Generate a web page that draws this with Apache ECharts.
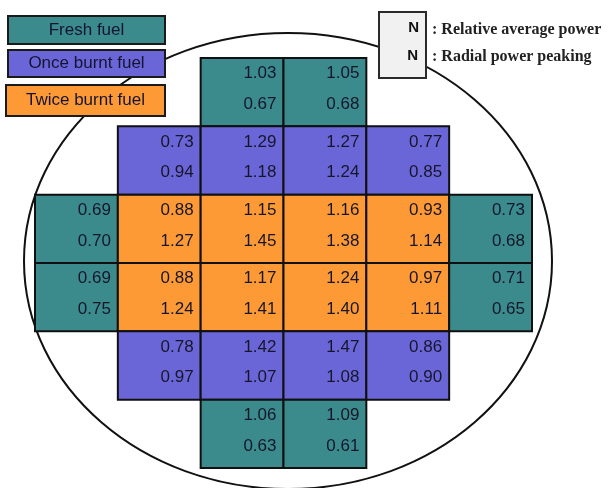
<!DOCTYPE html>
<html>
<head>
<meta charset="utf-8">
<script src="https://cdn.jsdelivr.net/npm/echarts@6/dist/echarts.min.js"></script>
<style>html,body{margin:0;padding:0;background:#fff;}#c{width:611px;height:488px;}</style>
</head>
<body>
<div id="c"></div>
<script>
// Core map data (rows top->bottom, columns left->right)
const colCategories = ['0', '1', '2', '3', '4', '5'];
const rowCategories = ['0', '1', '2', '3', '4', '5'];
const cellRow = [0, 0, 1, 1, 1, 1, 2, 2, 2, 2, 2, 2, 3, 3, 3, 3, 3, 3, 4, 4, 4, 4, 5, 5];
const cellCol = [2, 3, 1, 2, 3, 4, 0, 1, 2, 3, 4, 5, 0, 1, 2, 3, 4, 5, 1, 2, 3, 4, 2, 3];
const cellType = ['F','F','O','O','O','O','F','T','T','T','T','F','F','T','T','T','T','F','O','O','O','O','F','F'];
const relativePower = [1.03, 1.05, 0.73, 1.29, 1.27, 0.77, 0.69, 0.88, 1.15, 1.16, 0.93, 0.73, 0.69, 0.88, 1.17, 1.24, 0.97, 0.71, 0.78, 1.42, 1.47, 0.86, 1.06, 1.09];
const radialPeaking = [0.67, 0.68, 0.94, 1.18, 1.24, 0.85, 0.70, 1.27, 1.45, 1.38, 1.14, 0.68, 0.75, 1.24, 1.41, 1.40, 1.11, 0.65, 0.97, 1.07, 1.08, 0.90, 0.63, 0.61];
const fuelNames = { F: 'Fresh fuel', O: 'Once burnt fuel', T: 'Twice burnt fuel' };
const legendLabels = ['N', 'N'];
const legendTexts = [': Relative average power', ': Radial power peaking'];

const fuelColors = { F: '#3B8B8C', O: '#6B66D8', T: '#FE9A36' };
const cellData = cellRow.map((r, i) => [cellCol[i], r, cellType[i], relativePower[i], radialPeaking[i]]);

const chart = echarts.init(document.getElementById('c'), null, { renderer: 'canvas' });

function legendBox(y, h, type, left) {
  return {
    type: 'group', z: 20,
    children: [
      { type: 'rect', z: 20, shape: { x: left, y: y, width: 165 - left, height: h },
        style: { fill: fuelColors[type], stroke: '#1a1a1a', lineWidth: 2 } },
      { type: 'text', z: 21, style: { text: fuelNames[type], x: (left + 165) / 2, y: y + h / 2,
        textAlign: 'center', textVerticalAlign: 'middle', font: '17px "Liberation Sans", Arial, sans-serif', fill: '#141430' } }
    ]
  };
}

chart.setOption({
  animation: false,
  grid: { left: 35, top: 58, width: 497, height: 410 },
  xAxis: { type: 'category', data: colCategories, show: false, boundaryGap: true },
  yAxis: { type: 'category', data: rowCategories, inverse: true, show: false, boundaryGap: true },
  graphic: [
    { type: 'ellipse', z: 0, shape: { cx: 288, cy: 261, rx: 264, ry: 228 },
      style: { fill: 'none', stroke: '#111', lineWidth: 2 } },
    legendBox(16, 28, 'F', 8),
    legendBox(50, 27, 'O', 8),
    legendBox(85, 31, 'T', 6),
    { type: 'rect', z: 20, shape: { x: 379, y: 12, width: 47, height: 66 },
      style: { fill: '#f1f1f1', stroke: '#2a2a2a', lineWidth: 2 } },
    { type: 'text', z: 21, style: { text: legendLabels[0], x: 419, y: 28, textAlign: 'right', textVerticalAlign: 'middle',
      font: 'bold 15px "Liberation Sans", Arial, sans-serif', fill: '#111' } },
    { type: 'text', z: 21, style: { text: legendLabels[1], x: 418, y: 56, textAlign: 'right', textVerticalAlign: 'middle',
      font: 'bold 15px "Liberation Sans", Arial, sans-serif', fill: '#111' } },
    { type: 'text', z: 21, style: { text: legendTexts[0], x: 432, y: 30, textAlign: 'left', textVerticalAlign: 'middle',
      font: 'bold 16px "Liberation Serif", "Times New Roman", serif', fill: '#222' } },
    { type: 'text', z: 21, style: { text: legendTexts[1], x: 432, y: 57, textAlign: 'left', textVerticalAlign: 'middle',
      font: 'bold 16px "Liberation Serif", "Times New Roman", serif', fill: '#222' } }
  ],
  series: [{
    type: 'custom',
    z: 5,
    data: cellData,
    renderItem: function (params, api) {
      const c = api.coord([api.value(0), api.value(1)]);
      const s = api.size([1, 1]);
      const x0 = c[0] - s[0] / 2, y0 = c[1] - s[1] / 2;
      const type = cellData[params.dataIndex][2];
      const font = '17px "Liberation Sans", Arial, sans-serif';
      return {
        type: 'group',
        children: [
          { type: 'rect', shape: { x: x0, y: y0, width: s[0], height: s[1] },
            style: { fill: fuelColors[type], stroke: '#101010', lineWidth: 2 } },
          { type: 'text', style: { text: api.value(3).toFixed(2), x: x0 + s[0] - 7, y: y0 + s[1] * 0.23,
            textAlign: 'right', textVerticalAlign: 'middle', font: font, fill: '#16162a' } },
          { type: 'text', style: { text: api.value(4).toFixed(2), x: x0 + s[0] - 7, y: y0 + s[1] * 0.68,
            textAlign: 'right', textVerticalAlign: 'middle', font: font, fill: '#16162a' } }
        ]
      };
    }
  }]
});
</script>
</body>
</html>
